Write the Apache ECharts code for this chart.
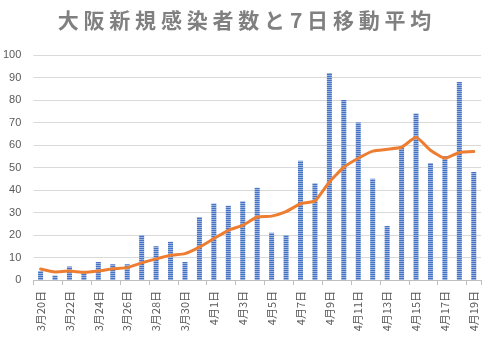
<!DOCTYPE html>
<html><head><meta charset="utf-8">
<script src="https://cdn.jsdelivr.net/npm/echarts@6/dist/echarts.min.js"></script>
<style>html,body{margin:0;padding:0;background:#fff}#c{width:489px;height:338px}</style>
</head><body><div id="c"></div>
<script>
const titleText = '大阪新規感染者数と7日移動平均';
const categories = ['3月20日','3月21日','3月22日','3月23日','3月24日','3月25日','3月26日','3月27日','3月28日','3月29日','3月30日','3月31日','4月1日','4月2日','4月3日','4月4日','4月5日','4月6日','4月7日','4月8日','4月9日','4月10日','4月11日','4月12日','4月13日','4月14日','4月15日','4月16日','4月17日','4月18日','4月19日'];
const newCases = [4,2,6,3,8,7,7,20,15,17,8,28,34,33,35,41,21,20,53,43,92,80,70,45,24,59,74,52,55,88,48];
const movingAvg = [4.9,3.6,4.0,3.4,4.0,5.0,5.5,7.6,9.4,11.0,11.7,14.6,18.4,22.1,24.3,28.0,28.4,30.4,33.9,35.1,43.6,50.1,54.1,57.3,58.1,59.0,63.4,57.7,54.1,56.7,57.1];

const pc = document.createElement('canvas');
pc.width = 2; pc.height = 2;
const g = pc.getContext('2d');
g.fillStyle = '#4472C4'; g.fillRect(0,0,2,1);
g.fillStyle = '#9DB4E0'; g.fillRect(0,1,2,1);

const chars = Array.from(titleText);
const richTitle = chars.map(c => '{t|' + c + '}').join('');

const chart = echarts.init(document.getElementById('c'), null, {renderer:'canvas'});
chart.setOption({
  animation:false,
  title:{
    text: richTitle, left:'center', top:5,
    textStyle:{ rich:{ t:{ fontSize:21, fontWeight:'bold', color:'#808080', fontFamily:'Noto Sans CJK JP', padding:[0,2.4,0,2.4] } } }
  },
  grid:{ left:32, right:8, top:55, bottom:58 },
  xAxis:{
    type:'category', data:categories, boundaryGap:true,
    axisLine:{ lineStyle:{ color:'#BFBFBF', width:1 } },
    axisTick:{ show:true, interval:1, alignWithLabel:false, length:5, lineStyle:{ color:'#BFBFBF' } },
    axisLabel:{ interval:1, rotate:90, color:'#595959', fontSize:11, fontFamily:'Noto Sans CJK JP', margin:11 }
  },
  yAxis:{
    type:'value', min:0, max:100, interval:10,
    axisLine:{ show:false }, axisTick:{ show:false },
    splitLine:{ lineStyle:{ color:'#D9D9D9', width:1 } },
    axisLabel:{ color:'#595959', fontSize:11, fontFamily:'Liberation Sans', margin:12 }
  },
  series:[
    { type:'bar', data:newCases, barWidth:5,
      itemStyle:{ color:{ image:pc, repeat:'repeat' } } },
    { type:'line', data:movingAvg, smooth:0.15, showSymbol:false, symbol:'none',
      lineStyle:{ color:'#ED7D31', width:3, cap:'round', join:'round' } }
  ]
});
</script></body></html>
